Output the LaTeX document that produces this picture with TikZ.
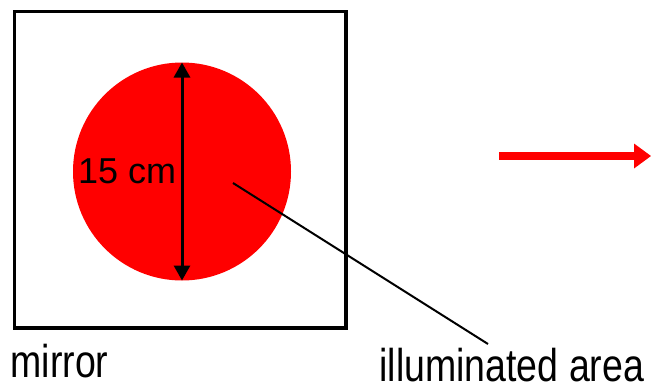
\documentclass[tikz,border=0pt]{standalone}
\usepackage{fontspec}
\setmainfont{Liberation Sans}
\usetikzlibrary{arrows.meta}
\definecolor{spotred}{RGB}{255,0,0}
\tikzset{
  labeltext/.style={inner sep=0pt, outer sep=0pt, anchor=base west, text depth=0pt, xscale=0.815, font=\fontsize{46}{50}\selectfont},
  dimtext/.style={inner sep=0pt, outer sep=0pt, anchor=base west, font=\fontsize{36}{40}\selectfont},
  framebox/.style={draw=black, line width=3.5pt, rectangle, inner sep=0pt, outer sep=0pt},
  spot/.style={circle, fill=spotred, draw=none, inner sep=0pt, outer sep=0pt, minimum size=218pt},
  dimarrow/.style={line width=3pt, {Triangle[length=15pt 0 0,width=16pt 0 0]}-{Triangle[length=15pt 0 0,width=16pt 0 0]}},
  pointer/.style={line width=2pt, black},
  beamshaft/.style={line width=8pt, spotred},
  beamhead/.style={fill=spotred, draw=none}
}
\begin{document}
\begin{tikzpicture}[x=1pt,y=-1pt]
\useasboundingbox (0,0) rectangle (651,386);
\node[framebox, minimum width=331.5pt, minimum height=316.7pt] (mirrorbox) at (180.05,169.65) {};
\node[spot] (area) at (182,171.5) {};
\draw[dimarrow] (area.north) -- (area.south);
\node[dimtext] (dim) at (78,183) {15 cm};
\coordinate (ptstart) at (233,183);
\coordinate (ptend) at (488,344);
\draw[pointer] (ptstart) -- (ptend);
\node[labeltext] (mirrorlabel) at (10.5,377) {mirror};
\node[labeltext] (arealabel) at (379.5,381.5) {illuminated area};
\coordinate (beamstart) at (499,156);
\coordinate (beamneck) at (634,156);
\coordinate (beamtip) at (651,156);
\draw[beamshaft] (beamstart) -- (beamneck);
\fill[beamhead] ([yshift=-12.5pt]beamneck) -- (beamtip) -- ([yshift=12.5pt]beamneck) -- cycle;
\end{tikzpicture}
\end{document}
